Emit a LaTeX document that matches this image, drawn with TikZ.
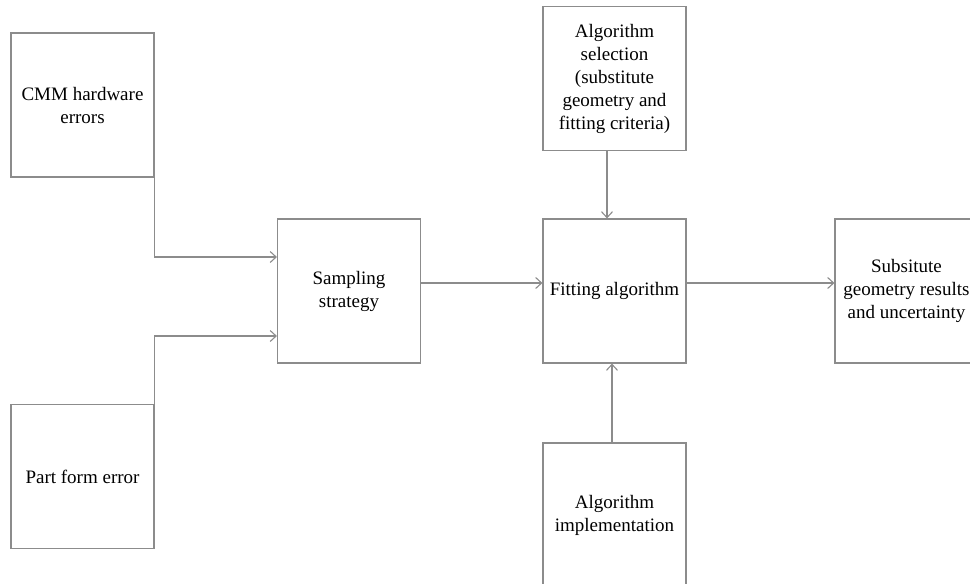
\documentclass[tikz,border=0pt]{standalone}
\usepackage{fontspec}
\setmainfont{Liberation Serif}
\usetikzlibrary{arrows.meta}
\definecolor{linegray}{RGB}{140,140,140}
\tikzset{
  blk/.style={draw=linegray, line width=1.1pt, minimum width=143pt, minimum height=144pt,
    align=center, inner sep=2pt, font=\fontsize{19}{23}\selectfont},
  conn/.style={draw=linegray, line width=1.1pt, -{Straight Barb[length=6pt,width=11pt]}}
}
\begin{document}
	\begin{tikzpicture}[x=1pt,y=-1pt]
		\useasboundingbox (0,0) rectangle (970,584);
		\node[blk] (cmm) at (82.5,105) {CMM hardware\\errors};
		\node[blk] (part) at (82.5,476.5) {Part form error};
		\node[blk] (samp) at (349,291) {Sampling\\strategy};
		\node[blk] (fit) at (614.5,291) {Fitting algorithm};
		\node[blk] (sel) at (614.5,78.5) {Algorithm\\selection\\(substitute\\geometry and\\fitting criteria)};
		\node[blk] (impl) at (614.5,515) {Algorithm\\implementation};
		\node[blk] (res) at (906.5,291) {Subsitute\\geometry results\\and uncertainty};
		\draw[conn] (cmm.south east) |- ([yshift=34pt]samp.west);
		\draw[conn] (part.north east) |- ([yshift=-45pt]samp.west);
		\draw[conn] ([yshift=8pt]samp.east) -- ([yshift=8pt]fit.west);
		\draw[conn] ([yshift=8pt]fit.east) -- ([yshift=8pt]res.west);
		\draw[conn] ([xshift=-7.5pt]sel.south) -- ([xshift=-7.5pt]fit.north);
		\draw[conn] ([xshift=-2.5pt]impl.north) -- ([xshift=-2.5pt]fit.south);
	\end{tikzpicture}
\end{document}
